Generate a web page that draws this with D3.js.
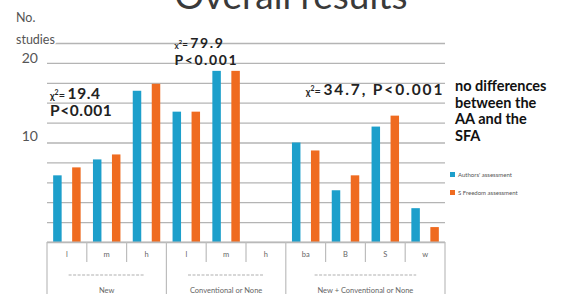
<!DOCTYPE html>
<html>
<head>
<meta charset="utf-8">
<script src="https://cdn.jsdelivr.net/npm/d3@7"></script>
<style>
  body { margin: 0; background: #fff; }
  text { font-family: Lato, "Open Sans", sans-serif; }
</style>
</head>
<body>
<div id="chart"></div>
<script>
// categories (group / sub-label) and the two series
const groups = ["New", "Conventional or None", "New + Conventional or None"];
const categories = [
  { key: "n-l", group: "New", label: "l" },
  { key: "n-m", group: "New", label: "m" },
  { key: "n-h", group: "New", label: "h" },
  { key: "c-l", group: "Conventional or None", label: "l" },
  { key: "c-m", group: "Conventional or None", label: "m" },
  { key: "c-h", group: "Conventional or None", label: "h" },
  { key: "nc-ba", group: "New + Conventional or None", label: "ba" },
  { key: "nc-b", group: "New + Conventional or None", label: "B" },
  { key: "nc-s", group: "New + Conventional or None", label: "S" },
  { key: "nc-w", group: "New + Conventional or None", label: "w" },
];
const series = ["Authors' assessment", "S Freedom assessment"];
const authorsValues = [6.7, 8.3, 15.2, 13.1, 17.2, 0, 10.0, 5.2, 11.6, 3.4];
const freedomValues = [7.5, 8.8, 15.9, 13.1, 17.2, 0, 9.2, 6.7, 12.7, 1.5];
const yTickValues = [10, 20];
const colors = ["#1d9fcb", "#ef6b20"];

const width = 568, height = 294;
const margin = { top: 43, right: 123, bottom: 52, left: 47 };

const svg = d3.select("#chart").append("svg")
  .attr("width", width)
  .attr("height", height);

const x = d3.scaleBand()
  .domain(categories.map((d) => d.key))
  .range([margin.left, width - margin.right]);

const xSub = d3.scaleBand()
  .domain(series)
  .range([0, x.bandwidth()])
  .paddingInner(0.553)
  .paddingOuter(0.324);

const y = d3.scaleLinear()
  .domain([0, 20])
  .range([height - margin.bottom, margin.top]);

// gridlines every 2 studies
svg.append("g")
  .attr("class", "grid")
  .attr("transform", `translate(${margin.left},0)`)
  .call(d3.axisLeft(y).tickValues(d3.range(0, 21, 2)).tickSize(-(width - margin.right - margin.left)).tickFormat(""))
  .call((g) => g.select(".domain").remove())
  .call((g) => g.selectAll("line").attr("stroke", "#b4b4b4").attr("stroke-width", 1.3));

// y tick labels
svg.append("g")
  .attr("transform", `translate(${margin.left},0)`)
  .call(d3.axisLeft(y).tickValues(yTickValues).tickSize(0).tickPadding(9))
  .call((g) => g.select(".domain").remove())
  .call((g) => g.selectAll("text")
    .attr("font-size", 14)
    .attr("fill", "#555")
    // top label sits under its line to clear the axis title
    .attr("dy", (d) => (d === 20 ? "1.4em" : "-0.15em")));

// axis title (white halo hides the top gridline behind it)
const yTitle = svg.append("text")
  .attr("x", 16)
  .attr("font-size", 12.5)
  .attr("fill", "#555")
  .attr("stroke", "#fff")
  .attr("stroke-width", 3)
  .attr("paint-order", "stroke");
yTitle.append("tspan").attr("x", 16).attr("y", 22).text("No.");
yTitle.append("tspan").attr("x", 16).attr("y", 44).text("studies");

// bars
const barData = categories.map((c, i) => ({
  key: c.key,
  values: [authorsValues[i], freedomValues[i]],
}));

svg.append("g")
  .selectAll("g")
  .data(barData)
  .join("g")
  .attr("transform", (d) => `translate(${x(d.key)},0)`)
  .selectAll("rect")
  .data((d) => d.values.map((v, j) => ({ s: series[j], v, j })))
  .join("rect")
  .attr("x", (d) => xSub(d.s))
  .attr("width", xSub.bandwidth())
  .attr("y", (d) => y(d.v))
  .attr("height", (d) => y(0) - y(d.v))
  .attr("fill", (d) => colors[d.j]);

// category axis box
const axisG = svg.append("g").attr("stroke", "#bdbdbd").attr("stroke-width", 1.2);
axisG.append("line")
  .attr("x1", margin.left).attr("x2", width - margin.right)
  .attr("y1", y(0)).attr("y2", y(0));

const boundaries = categories.map((c, i) => ({
  x: x(c.key),
  groupStart: i === 0 || categories[i - 1].group !== c.group,
}));
boundaries.push({ x: x(categories[categories.length - 1].key) + x.bandwidth(), groupStart: true });

axisG.selectAll(".div")
  .data(boundaries)
  .join("line")
  .attr("x1", (d) => d.x).attr("x2", (d) => d.x)
  .attr("y1", y(0))
  .attr("y2", (d) => (d.groupStart ? height : y(0) + 20));

svg.append("g")
  .selectAll("text")
  .data(categories)
  .join("text")
  .attr("x", (d) => x(d.key) + x.bandwidth() / 2)
  .attr("y", y(0) + 15)
  .attr("text-anchor", "middle")
  .attr("font-size", 7.5)
  .attr("fill", "#666")
  .text((d) => d.label);

// group labels with their dashed rules
const groupSpans = groups.map((g) => {
  const keys = categories.filter((c) => c.group === g).map((c) => c.key);
  const x0 = x(keys[0]);
  const x1 = x(keys[keys.length - 1]) + x.bandwidth();
  return { name: g, x0, x1, mid: (x0 + x1) / 2, n: keys.length };
});

const gl = svg.append("g").selectAll("g").data(groupSpans).join("g");
gl.append("line")
  .attr("x1", (d) => d.mid - d.n * 12.7)
  .attr("x2", (d) => d.mid + d.n * 12.7)
  .attr("y1", y(0) + 33).attr("y2", y(0) + 33)
  .attr("stroke", "#b0b0b0")
  .attr("stroke-width", 1.2)
  .attr("stroke-dasharray", "3,1.5");
gl.append("text")
  .attr("x", (d) => d.mid)
  .attr("y", y(0) + 51)
  .attr("text-anchor", "middle")
  .attr("font-size", 7.5)
  .attr("fill", "#666")
  .text((d) => d.name);

// title (mostly above the frame, as in the source slide)
svg.append("text")
  .attr("x", 291)
  .attr("y", 9)
  .attr("text-anchor", "middle")
  .attr("font-size", 37)
  .attr("fill", "#3a3a3a")
  .text("Overall results");

// chi-square annotations
function chi(sel, xPos, yPos, value, size, spacing) {
  const t = sel.append("text")
    .attr("x", xPos).attr("y", yPos)
    .attr("font-weight", 700)
    .attr("font-size", size)
    .attr("fill", "#222");
  t.append("tspan").attr("font-size", size * 0.6).text("χ");
  t.append("tspan").attr("font-size", size * 0.45).attr("dy", -size * 0.3).text("2");
  t.append("tspan").attr("font-size", size * 0.7).attr("dy", size * 0.3).text("= ");
  t.append("tspan").attr("letter-spacing", spacing).text(value);
  return t;
}

function pLine(sel, xPos, yPos, size, spacing) {
  sel.append("text").attr("x", xPos).attr("y", yPos)
    .attr("font-weight", 700).attr("font-size", size)
    .attr("letter-spacing", spacing)
    .attr("fill", "#222").text("P<0.001");
}

const notes = svg.append("g");
chi(notes, x("n-l") + 3, y(14.35), "19.4", 15.5, 0.6);
pLine(notes, x("n-l") + 3, y(12.65), 15.5, 0.6);

chi(notes, x("c-l") + 8, y(19.45), "79.9", 14, 1.6);
pLine(notes, x("c-l") + 8, y(17.75), 14, 1.6);

chi(notes, x("nc-ba") + 20, y(14.75), "34.7, P<0.001", 15.5, 1.9);

const side = notes.append("text")
  .attr("font-weight", 700)
  .attr("font-size", 14.5)
  .attr("fill", "#111");
["no differences", "between the", "AA and the", "SFA"].forEach((line, i) => {
  side.append("tspan").attr("x", 455).attr("y", 91 + i * 16.5).text(line);
});

// legend
const legend = svg.append("g")
  .selectAll("g")
  .data(series)
  .join("g")
  .attr("transform", (d, i) => `translate(450,${172 + i * 18})`);
legend.append("rect").attr("width", 5).attr("height", 5).attr("fill", (d, i) => colors[i]);
legend.append("text")
  .attr("x", 8).attr("y", 5)
  .attr("font-size", 6)
  .attr("fill", "#555")
  .text((d) => d);
</script>
</body>
</html>
